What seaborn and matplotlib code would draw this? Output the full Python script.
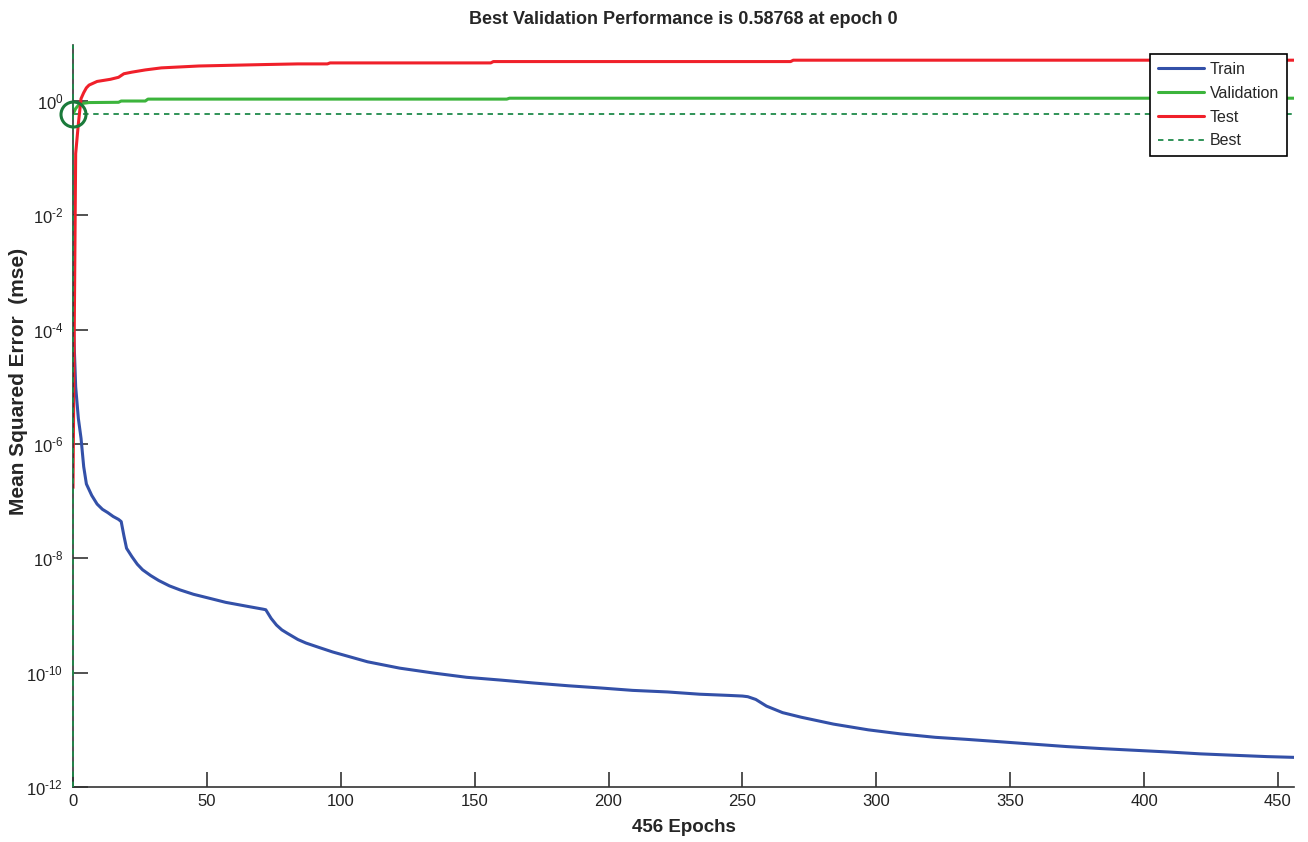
import numpy as np
import pandas as pd
import matplotlib
matplotlib.use("Agg")
import matplotlib.pyplot as plt
from matplotlib.lines import Line2D
from matplotlib.ticker import NullLocator, FixedLocator
import seaborn as sns

# ---- training record (mean squared error per epoch) ----
train_epochs = [0, 1, 2, 3, 4, 5, 7, 9, 11, 13, 15, 17, 18, 19, 20, 22, 24, 26,
                29, 32, 36, 40, 45, 51, 57, 65, 71, 72, 74, 76, 78, 80, 84, 87,
                92, 97, 104, 110, 122, 135, 147, 160, 172, 185, 197, 209, 222,
                234, 245, 250, 252, 255, 259, 265, 272, 284, 297, 309, 322, 334,
                346, 359, 371, 384, 396, 409, 421, 433, 446, 456]
train_mse = [2.0e-4, 1.0e-5, 2.8e-6, 1.26e-6, 4.0e-7, 2.0e-7, 1.26e-7, 8.9e-8,
             7.2e-8, 6.3e-8, 5.4e-8, 4.8e-8, 4.4e-8, 2.5e-8, 1.5e-8, 1.07e-8,
             7.9e-9, 6.3e-9, 5.0e-9, 4.1e-9, 3.3e-9, 2.8e-9, 2.35e-9, 2.0e-9,
             1.7e-9, 1.45e-9, 1.29e-9, 1.26e-9, 8.9e-10, 6.8e-10, 5.6e-10,
             4.9e-10, 3.8e-10, 3.3e-10, 2.75e-10, 2.3e-10, 1.86e-10, 1.55e-10,
             1.2e-10, 9.8e-11, 8.3e-11, 7.4e-11, 6.6e-11, 5.9e-11, 5.4e-11,
             4.9e-11, 4.6e-11, 4.2e-11, 4.0e-11, 3.9e-11, 3.8e-11, 3.4e-11,
             2.6e-11, 2.0e-11, 1.66e-11, 1.26e-11, 1.0e-11, 8.5e-12, 7.4e-12,
             6.8e-12, 6.2e-12, 5.6e-12, 5.1e-12, 4.7e-12, 4.4e-12, 4.1e-12,
             3.8e-12, 3.6e-12, 3.4e-12, 3.3e-12]

val_epochs = [0, 1, 2, 3, 6, 17, 18, 27, 28, 162, 163, 456]
val_mse = [0.58768, 0.74, 0.84, 0.90, 0.94, 0.95, 1.0, 1.0, 1.08, 1.08, 1.12, 1.12]

test_epochs = [0, 1, 2, 3, 4, 5, 6, 9, 14, 17, 19, 22, 27, 33, 47, 72, 84, 95,
               96, 156, 157, 268, 269, 456]
test_mse = [1.7e-7, 0.12, 0.4, 1.1, 1.4, 1.7, 1.9, 2.2, 2.4, 2.6, 3.0, 3.2, 3.5,
            3.8, 4.1, 4.35, 4.46, 4.46, 4.64, 4.64, 4.9, 4.9, 5.18, 5.18]

best_epoch = 0
best_perf = 0.58768
n_epochs = 456

x_ticks = [0, 50, 100, 150, 200, 250, 300, 350, 400, 450]
y_tick_exps = [-12, -10, -8, -6, -4, -2, 0]

series_names = ["Train", "Validation", "Test"]
series_colors = {"Train": "#3350a8", "Validation": "#3cb43c", "Test": "#f0202a"}
best_color = "#1f8a4a"
circle_color = "#1a7a3a"

frames = []
for name, ep, val in [("Train", train_epochs, train_mse),
                      ("Validation", val_epochs, val_mse),
                      ("Test", test_epochs, test_mse)]:
    frames.append(pd.DataFrame({"Epoch": ep, "MSE": val, "Set": name}))
df = pd.concat(frames, ignore_index=True)

sns.set_theme(style="ticks")
plt.rcParams["font.family"] = ["Liberation Sans", "DejaVu Sans"]
plt.rcParams["mathtext.fontset"] = "custom"
plt.rcParams["mathtext.rm"] = "Liberation Sans"
plt.rcParams["mathtext.it"] = "Liberation Sans"
plt.rcParams["mathtext.bf"] = "Liberation Sans:bold"

fig = plt.figure(figsize=(13.08, 8.42), dpi=100)
ax = fig.add_axes([73 / 1308, 1 - 787 / 842, (1294 - 73) / 1308, (787 - 45) / 842])

sns.lineplot(data=df, x="Epoch", y="MSE", hue="Set", hue_order=series_names,
             palette=series_colors, linewidth=2.2, ax=ax, legend=False,
             estimator=None, sort=False)

ax.set_yscale("log")
ax.set_xlim(0, n_epochs)
ax.set_ylim(1e-12, 10 ** 0.98)

# best-epoch markers
ax.axhline(best_perf, color=best_color, lw=1.3, ls=(0, (3, 2.6)), zorder=1)
ax.axvline(best_epoch, color=best_color, lw=1.3, ls=(0, (3, 2.6)), zorder=5,
           clip_on=False)
ax.plot([best_epoch], [best_perf], marker="o", ms=18, mfc="none",
        mec=circle_color, mew=2.2, clip_on=False, zorder=6)

# axes styling
for side in ["top", "right"]:
    ax.spines[side].set_visible(False)
for side in ["left", "bottom"]:
    ax.spines[side].set_color("#333333")
    ax.spines[side].set_linewidth(1.2)

ax.xaxis.set_major_locator(FixedLocator(x_ticks))
ax.yaxis.set_major_locator(FixedLocator([10.0 ** k for k in y_tick_exps]))
ax.yaxis.set_minor_locator(NullLocator())
ax.tick_params(axis="both", which="major", direction="in", length=11,
               width=1.2, color="#333333", labelsize=12, labelcolor="#222222",
               pad=5)
ax.tick_params(axis="y", pad=7)
ax.set_yticklabels([r"$\mathregular{10^{\text{%d}}}$" % k for k in y_tick_exps])

ax.set_title("Best Validation Performance is 0.58768 at epoch 0",
             fontsize=13, fontweight="bold", pad=15)
ax.set_xlabel("456 Epochs", fontsize=13.5, fontweight="bold", labelpad=7)
ax.set_ylabel("Mean Squared Error  (mse)", fontsize=15, fontweight="bold")
ax.yaxis.set_label_coords((28 - 73) / 1221, 0.547)

handles = [Line2D([], [], color=series_colors["Train"], lw=2.2),
           Line2D([], [], color=series_colors["Validation"], lw=2.2),
           Line2D([], [], color=series_colors["Test"], lw=2.2),
           Line2D([], [], color=best_color, lw=1.3, ls=(0, (3, 2.6)))]
leg = ax.legend(handles, ["Train", "Validation", "Test", "Best"],
                loc="upper right", bbox_to_anchor=(0.9943, 0.9879),
                borderaxespad=0, fontsize=11.5, frameon=True, fancybox=False,
                framealpha=1, edgecolor="black", handlelength=2.9,
                handletextpad=0.35, labelspacing=0.55, borderpad=0.5)
leg.get_frame().set_linewidth(1.2)
leg.set_zorder(10)

fig.savefig("out.png", dpi=100)
